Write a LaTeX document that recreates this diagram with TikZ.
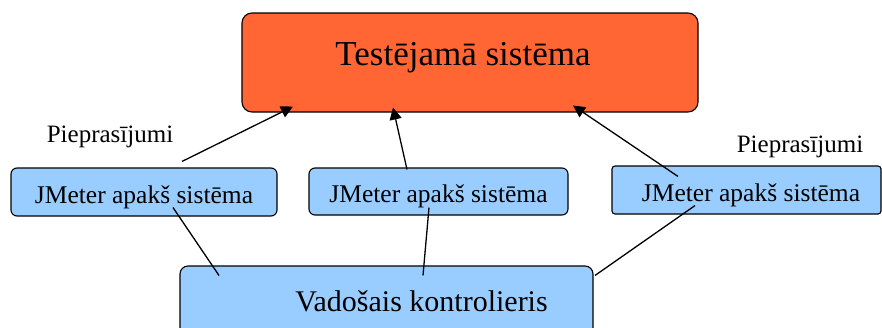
\documentclass[tikz,border=0pt]{standalone}
\usepackage{fontspec}
\setmainfont{Liberation Serif}
\definecolor{sutorange}{RGB}{255, 102, 51}
\definecolor{jmblue}{RGB}{153, 204, 255}
\usepackage{tikz}
\usetikzlibrary{arrows.meta, positioning, calc}

\tikzset{
  sutbox/.style={draw=black, line width=1.1pt, fill=sutorange, rounded corners=10pt,
    minimum width=456pt, minimum height=99pt, font=\fontsize{35}{40}\selectfont,
    text height=25pt, text depth=20pt},
  jmbox/.style={draw=black, line width=1.1pt, fill=jmblue, rounded corners=6pt,
    minimum height=48pt, font=\fontsize{25.5}{30}\selectfont,
    text height=25pt, text depth=3pt},
  ctrlbox/.style={draw=black, line width=1.1pt, fill=jmblue, rounded corners=8pt,
    minimum width=413pt, minimum height=75pt, font=\fontsize{30}{36}\selectfont,
    text height=22pt, text depth=7pt},
  reqlabel/.style={anchor=base, font=\fontsize{25}{30}\selectfont},
  reqarrow/.style={line width=1.3pt, -{Triangle[length=12pt, width=12pt]}},
  link/.style={line width=1.3pt}
}

\begin{document}
\begin{tikzpicture}[x=1pt, y=-1pt]
  \useasboundingbox (0,0) rectangle (882,327);
  \clip (0,0) rectangle (882,327);

  % system under test
  \node[sutbox] (sut) at (470,62.5) {Testējamā sistēma\hspace*{14pt}};

  % JMeter subsystems
  \node[jmbox, minimum width=266pt] (jmA) at (144,192) {JMeter apakš sistēma};
  \node[jmbox, minimum width=259pt, minimum height=47pt] (jmB) at (438.5,191.5) {JMeter apakš sistēma};
  \node[jmbox, minimum width=269pt, rounded corners=3pt] (jmC) at (746.5,190) {\hspace*{9pt}JMeter apakš sistēma};

  % controller
  \node[ctrlbox] (ctrl) at (386.5,303.5) {\hspace*{70pt}Vadošais kontrolieris};

  % labels
  \node[reqlabel] (reqA) at (110,142) {Pieprasījumi};
  \node[reqlabel] (reqC) at (800,152) {Pieprasījumi};

  % requests
  \draw[reqarrow] ($(jmA.north)+(38,-6)$) -- ($(sut.south)+(-177,-6)$);
  \draw[reqarrow] ($(jmB.north)+(-31.5,2)$) -- ($(sut.south)+(-77,-5)$);
  \draw[reqarrow] ($(jmC.north)+(-68.5,11)$) -- ($(sut.south)+(103,-7)$);

  % control links
  \draw[link] ($(jmA.south)+(29,-9)$) -- ($(ctrl.north)+(-167.5,10)$);
  \draw[link] ($(jmB.south)+(-9.5,-8)$) -- ($(ctrl.north)+(36.5,10)$);
  \draw[link] ($(jmC.south)+(-51.5,-9)$) -- ($(ctrl.north)+(208.5,10)$);
\end{tikzpicture}
\end{document}
